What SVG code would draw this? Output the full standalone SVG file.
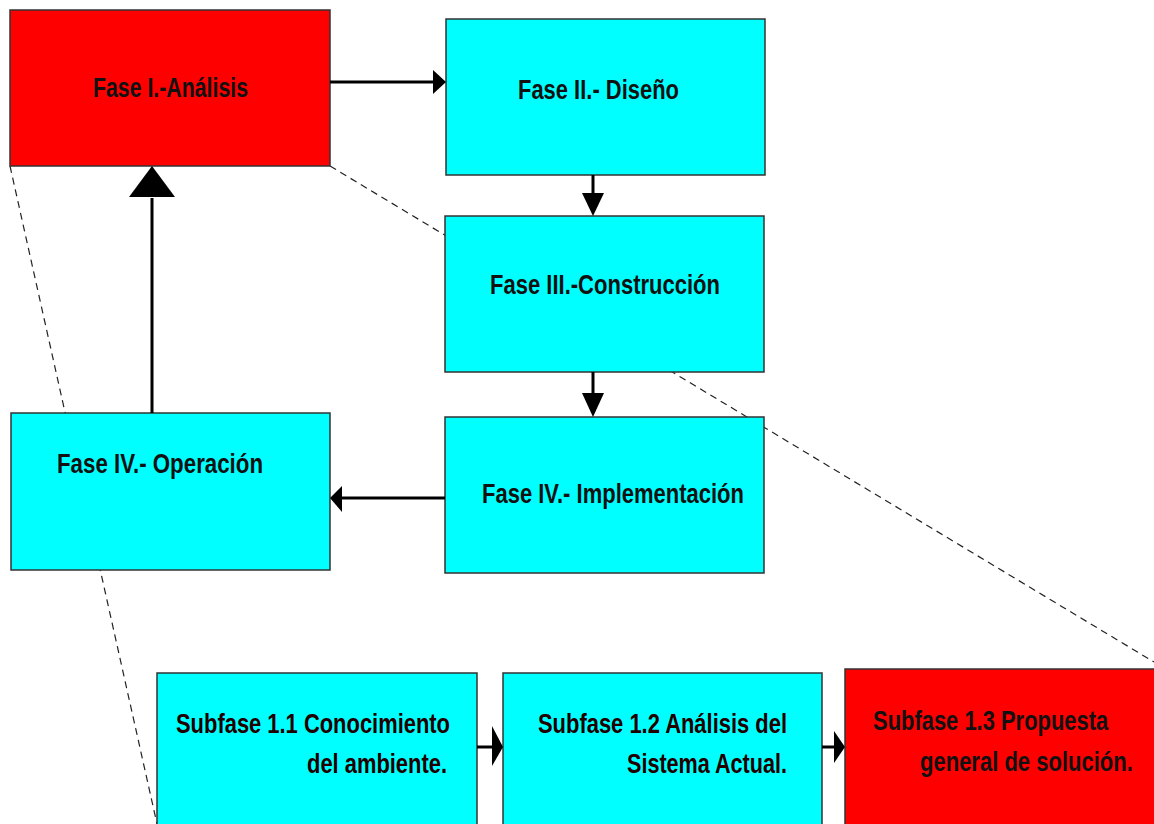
<svg xmlns="http://www.w3.org/2000/svg" width="1154" height="824" viewBox="0 0 1154 824">
  <defs>
    <style>
      .box { stroke: #333333; stroke-width: 1.5; }
      .cyan { fill: #00FFFF; }
      .red { fill: #FF0000; }
      .lbl { font-family: "Liberation Sans", Arial, sans-serif; font-weight: bold; font-size: 27px; fill: #111111; }
      .sub { fill: #220000; }
      .guide { fill: none; stroke: #222222; stroke-width: 1.2; stroke-dasharray: 7 5; }
      .wire { fill: none; stroke: #000000; stroke-width: 3; }
      .head { fill: #000000; stroke: none; }
    </style>
  </defs>

  <rect x="0" y="0" width="1154" height="824" fill="#FFFFFF"/>

  <!-- zoom guides from phase I down to its sub-phases -->
  <g id="guides">
    <line class="guide" x1="10" y1="166" x2="157" y2="824"/>
    <line class="guide" x1="330" y1="166" x2="1154" y2="662"/>
  </g>

  <g id="fase1">
    <rect class="box red" x="10" y="10" width="320" height="156"/>
    <text class="lbl" x="93" y="97" textLength="155" lengthAdjust="spacingAndGlyphs">Fase I.-Análisis</text>
  </g>

  <g id="fase2">
    <rect class="box cyan" x="446" y="19" width="319" height="156"/>
    <text class="lbl" x="518" y="99" textLength="161" lengthAdjust="spacingAndGlyphs">Fase II.- Diseño</text>
  </g>

  <g id="fase3">
    <rect class="box cyan" x="445" y="216" width="319" height="156"/>
    <text class="lbl" x="490" y="294" textLength="230" lengthAdjust="spacingAndGlyphs">Fase III.-Construcción</text>
  </g>

  <g id="fase4-implementacion">
    <rect class="box cyan" x="445" y="417" width="319" height="156"/>
    <text class="lbl" x="482" y="503" textLength="262" lengthAdjust="spacingAndGlyphs">Fase IV.- Implementación</text>
  </g>

  <g id="fase4-operacion">
    <rect class="box cyan" x="11" y="413" width="319" height="157"/>
    <text class="lbl" x="57" y="473" textLength="206" lengthAdjust="spacingAndGlyphs">Fase IV.- Operación</text>
  </g>

  <g id="subfase11">
    <rect class="box cyan" x="157" y="673" width="320" height="153"/>
    <text class="lbl sub" x="176" y="733" textLength="274" lengthAdjust="spacingAndGlyphs">Subfase 1.1 Conocimiento</text>
    <text class="lbl sub" x="307" y="773" textLength="140" lengthAdjust="spacingAndGlyphs">del ambiente.</text>
  </g>

  <g id="subfase12">
    <rect class="box cyan" x="503" y="673" width="319" height="153"/>
    <text class="lbl sub" x="538" y="733" textLength="249" lengthAdjust="spacingAndGlyphs">Subfase 1.2 Análisis del</text>
    <text class="lbl sub" x="627" y="773" textLength="160" lengthAdjust="spacingAndGlyphs">Sistema Actual.</text>
  </g>

  <g id="subfase13">
    <rect class="box red" x="845" y="669" width="310" height="157"/>
    <!-- narrowed horizontally so the labels stay inside the right edge -->
    <text class="lbl" transform="translate(873 730) scale(0.8 1)" x="0" y="0" textLength="294" lengthAdjust="spacingAndGlyphs">Subfase 1.3 Propuesta</text>
    <text class="lbl" transform="translate(920 771) scale(0.8 1)" x="0" y="0" textLength="266" lengthAdjust="spacingAndGlyphs">general de solución.</text>
  </g>

  <g id="connectors">
    <!-- I -> II -->
    <line class="wire" x1="330" y1="82" x2="435" y2="82"/>
    <polygon class="head" points="433,70 446,82 433,94"/>
    <!-- II -> III -->
    <line class="wire" x1="593" y1="175" x2="593" y2="195"/>
    <polygon class="head" points="582,193 604,193 593,216"/>
    <!-- III -> IV implementacion -->
    <line class="wire" x1="593" y1="372" x2="593" y2="395"/>
    <polygon class="head" points="582,393 604,393 593,417"/>
    <!-- IV implementacion -> IV operacion -->
    <line class="wire" x1="445" y1="498" x2="341" y2="498"/>
    <polygon class="head" points="342,486 330,498 342,512"/>
    <!-- IV operacion -> I -->
    <line class="wire" x1="152" y1="413" x2="152" y2="198"/>
    <polygon class="head" points="129,197 175,197 152,166"/>
    <!-- 1.1 -> 1.2 -->
    <line class="wire" x1="477" y1="747" x2="494" y2="747"/>
    <polygon class="head" points="492,726 503,747 492,766"/>
    <!-- 1.2 -> 1.3 -->
    <line class="wire" x1="822" y1="747" x2="836" y2="747"/>
    <polygon class="head" points="834,731 845,747 834,763"/>
  </g>
</svg>
